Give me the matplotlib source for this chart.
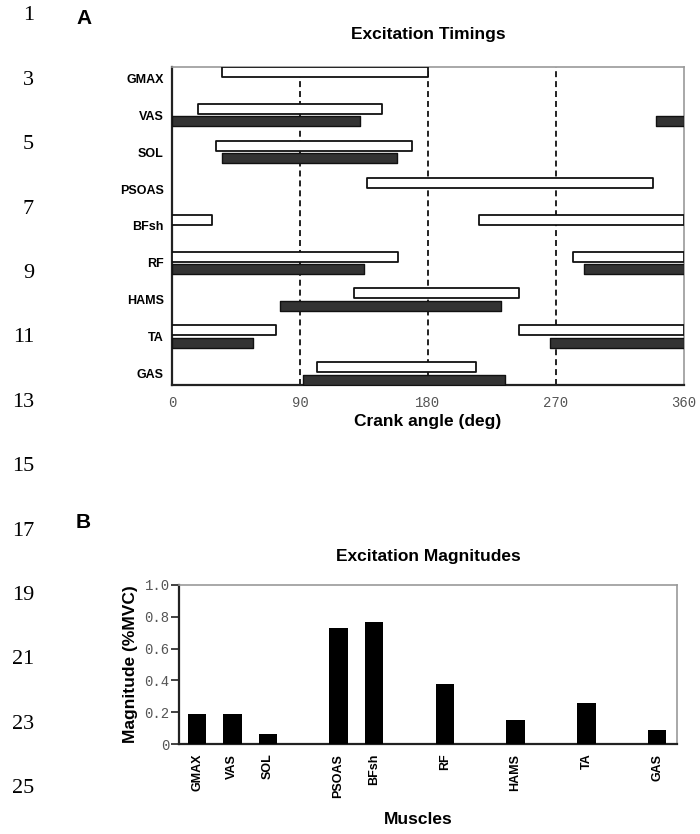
import matplotlib
matplotlib.use("Agg")
import matplotlib.pyplot as plt

# ---- data ----
muscles = ['GMAX', 'VAS', 'SOL', 'PSOAS', 'BFsh', 'RF', 'HAMS', 'TA', 'GAS']
white_on = [35, 18, 31, 137, 216, 282, 128, 244, 102]
white_off = [180, 148, 169, 338, 28, 159, 244, 73, 214]
black_on = [None, 340, 35, None, None, 290, 76, 266, 92]
black_off = [None, 132, 158, None, None, 135, 231, 57, 234]
angle_ticks = [0, 90, 180, 270, 360]
phase_lines = [90, 180, 270]

magnitudes = [0.19, 0.19, 0.063, 0.73, 0.77, 0.38, 0.15, 0.256, 0.09]
bar_pos = [0, 1, 2, 4, 5, 7, 9, 11, 13]
mag_ticks = [0, 0.2, 0.4, 0.6, 0.8, 1.0]
mag_ticklabels = ['0', '0.2', '0.4', '0.6', '0.8', '1.0']

W, H = 700, 834
fig = plt.figure(figsize=(W / 100, H / 100), dpi=100)

def px_axes(l, t, r, b):
    return fig.add_axes([l / W, 1 - b / H, (r - l) / W, (b - t) / H])

SANS = ['Liberation Sans', 'DejaVu Sans']
MONO = ['Liberation Mono', 'DejaVu Sans Mono']
SERIF = ['Liberation Serif', 'DejaVu Serif']
TICKC = '#555555'
FRAMEC = '#999999'
LBL = 12.5

def segments(on, off):
    if off >= on:
        return [(on, off - on)]
    return [(on, 360 - on), (0, off)]

# ---- panel A ----
ax = px_axes(172, 67, 684, 385)
bh = 0.27
boff = 0.34
for i in range(len(muscles)):
    ax.broken_barh(segments(white_on[i], white_off[i]), (i - bh / 2, bh),
                   facecolors='white', edgecolors='#111111', linewidth=1.3, zorder=3)
    if black_on[i] is not None:
        ax.broken_barh(segments(black_on[i], black_off[i]), (i + boff - bh / 2, bh),
                       facecolors='#333333', edgecolors='#111111', linewidth=1.0, zorder=3)
for x in phase_lines:
    ax.axvline(x, color='#111111', lw=1.3, ls=(0, (3.3, 2.2)), zorder=2)
ax.set_xlim(0, 360)
ax.set_ylim(8.48, -0.136)
ax.set_xticks(angle_ticks)
ax.set_xticklabels([str(v) for v in angle_ticks], family=MONO, fontsize=10, color=TICKC)
ax.set_yticks([i + 0.17 for i in range(len(muscles))])
ax.set_yticklabels(muscles, family=SANS, fontsize=9, fontweight='bold')
ax.tick_params(axis='x', length=0, pad=8)
ax.tick_params(axis='y', length=0, pad=6)
for s in ['top', 'right']:
    ax.spines[s].set_color(FRAMEC)
    ax.spines[s].set_linewidth(1.2)
for s in ['left', 'bottom']:
    ax.spines[s].set_color('#222222')
    ax.spines[s].set_linewidth(1.6)
ax.set_title('Excitation Timings', family=SANS, fontsize=LBL, fontweight='bold', pad=20)
ax.set_xlabel('Crank angle (deg)', family=SANS, fontsize=LBL, fontweight='bold', labelpad=3)

# ---- panel B ----
bx = px_axes(179.3, 585, 676.7, 744)
bx.bar(bar_pos, magnitudes, width=0.52, color='black', zorder=3)
bx.set_xlim(-0.5, 13.55)
bx.set_ylim(0, 1.0)
bx.set_yticks(mag_ticks)
bx.set_yticklabels(mag_ticklabels, family=MONO, fontsize=10, color=TICKC)
bx.tick_params(axis='y', length=6, width=1.2, color='#222222', pad=1)
bx.set_xticks(bar_pos)
bx.set_xticklabels(muscles, rotation=90, family=SANS, fontsize=9, fontweight='bold')
bx.tick_params(axis='x', length=0, pad=7)
for s in ['top', 'right']:
    bx.spines[s].set_color(FRAMEC)
    bx.spines[s].set_linewidth(1.2)
for s in ['left', 'bottom']:
    bx.spines[s].set_color('#222222')
    bx.spines[s].set_linewidth(1.6)
bx.set_title('Excitation Magnitudes', family=SANS, fontsize=LBL, fontweight='bold', pad=17)
bx.set_ylabel('Magnitude (%MVC)', family=SANS, fontsize=LBL, fontweight='bold', labelpad=5)
bx.set_xlabel('Muscles', family=SANS, fontsize=LBL, fontweight='bold', labelpad=12)
bx.xaxis.set_label_coords((418 - 179.3) / (676.7 - 179.3), -0.0, transform=bx.transAxes)
bx.xaxis.label.set_verticalalignment('top')
bx.xaxis.label.set_position(((418 - 179.3) / (676.7 - 179.3), 0))
bx.xaxis.set_label_coords((418 - 179.3) / (676.7 - 179.3), -(812 - 744) / (744 - 585))

# ---- panel letters & line numbers ----
fig.text(76 / W, 1 - 19 / H, 'A', family=SANS, fontsize=15, fontweight='bold', va='center', ha='left')
fig.text(76 / W, 1 - 523 / H, 'B', family=SANS, fontsize=15, fontweight='bold', va='center', ha='left')
for k, n in enumerate(range(1, 26, 2)):
    y = 16 + 64.4 * k
    fig.text(34 / W, 1 - y / H, str(n), family=SERIF, fontsize=16, va='center', ha='right')

fig.savefig('out.png', dpi=100)
